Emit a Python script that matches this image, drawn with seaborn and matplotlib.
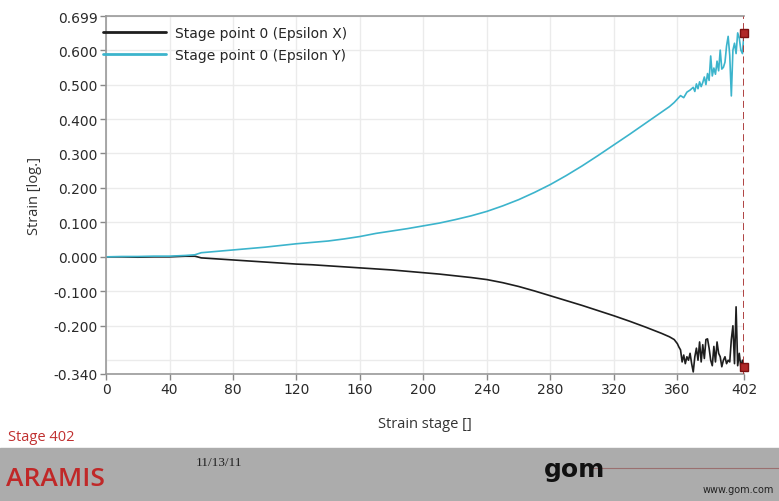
"""
ARAMIS strain chart: Epsilon X / Epsilon Y of stage point 0 over strain stages.
"""
import numpy as np
import pandas as pd
import matplotlib
matplotlib.use("Agg")
import matplotlib.pyplot as plt
import seaborn as sns
from matplotlib.patches import Rectangle
from matplotlib.lines import Line2D

# Data
stage_y = [0, 10, 20, 30, 40, 50, 56, 60, 70, 80, 90, 100, 110, 120, 130, 140, 150,
           160, 170, 180, 190, 200, 210, 220, 230, 240, 250, 260, 270, 280, 290, 300,
           310, 320, 330, 340, 350, 355, 358, 360, 362, 364, 366, 368, 370, 371, 372,
           373, 374, 375, 376, 377, 378, 379, 380, 381, 382, 383, 384, 385, 386, 387,
           388, 389, 390, 391, 392, 393, 394, 395, 396, 397, 398, 399, 400, 401, 402]
eps_y = [0.000, 0.001, 0.001, 0.002, 0.002, 0.004, 0.006, 0.012, 0.016, 0.020, 0.024,
         0.028, 0.033, 0.038, 0.042, 0.046, 0.052, 0.059, 0.068, 0.075, 0.082, 0.090,
         0.098, 0.108, 0.119, 0.132, 0.148, 0.166, 0.187, 0.210, 0.236, 0.264, 0.294,
         0.325, 0.356, 0.388, 0.420, 0.436, 0.448, 0.458, 0.468, 0.462, 0.478, 0.484,
         0.492, 0.480, 0.502, 0.488, 0.508, 0.494, 0.506, 0.522, 0.500, 0.532, 0.512,
         0.583, 0.525, 0.548, 0.530, 0.568, 0.540, 0.600, 0.545, 0.550, 0.565, 0.612,
         0.640, 0.585, 0.467, 0.600, 0.620, 0.590, 0.650, 0.635, 0.600, 0.590, 0.650]

stage_x = [0, 10, 20, 30, 40, 50, 56, 60, 70, 80, 90, 100, 110, 120, 130, 140, 150,
           160, 170, 180, 190, 200, 210, 220, 230, 240, 250, 260, 270, 280, 290, 300,
           310, 320, 330, 340, 350, 355, 358, 360, 361, 362, 363, 364, 365, 366, 367,
           368, 369, 370, 371, 372, 373, 374, 375, 376, 377, 378, 379, 380, 381, 382,
           383, 384, 385, 386, 387, 388, 389, 390, 391, 392, 393, 394, 395, 396, 397,
           398, 399, 400, 401, 402]
eps_x = [0.000, 0.000, -0.001, 0.000, 0.000, 0.002, 0.002, -0.003, -0.006, -0.009,
         -0.012, -0.015, -0.018, -0.021, -0.023, -0.026, -0.029, -0.032, -0.035,
         -0.038, -0.042, -0.046, -0.050, -0.055, -0.060, -0.066, -0.075, -0.086,
         -0.099, -0.113, -0.127, -0.141, -0.156, -0.171, -0.187, -0.204, -0.222,
         -0.232, -0.240, -0.252, -0.262, -0.270, -0.305, -0.285, -0.310, -0.290,
         -0.300, -0.280, -0.310, -0.334, -0.290, -0.265, -0.300, -0.247, -0.305,
         -0.255, -0.295, -0.240, -0.238, -0.265, -0.300, -0.316, -0.260, -0.305,
         -0.247, -0.280, -0.290, -0.319, -0.300, -0.290, -0.310, -0.300, -0.305,
         -0.240, -0.200, -0.310, -0.145, -0.316, -0.280, -0.320, -0.300, -0.320]

x_ticks = [0, 40, 80, 120, 160, 200, 240, 280, 320, 360, 402]
y_ticks = [-0.340, -0.200, -0.100, 0.000, 0.100, 0.200, 0.300, 0.400, 0.500, 0.600, 0.699]

label_x = "Stage point 0 (Epsilon X)"
label_y = "Stage point 0 (Epsilon Y)"

df_x = pd.DataFrame({"stage": stage_x, "strain": eps_x})
df_y = pd.DataFrame({"stage": stage_y, "strain": eps_y})

sns.set_theme(style="white")
plt.rcParams["font.family"] = ["DejaVu Sans"]

fig = plt.figure(figsize=(7.79, 5.02), dpi=100)
ax = fig.add_axes([0.1361, 0.2530, 0.8190, 0.7131])

black = "#1e1e1e"
cyan = "#3cb4cc"
red = "#b02828"

sns.lineplot(data=df_x, x="stage", y="strain", ax=ax, color=black, lw=1.2,
             estimator=None, sort=False)
sns.lineplot(data=df_y, x="stage", y="strain", ax=ax, color=cyan, lw=1.2,
             estimator=None, sort=False)

# current-stage cursor
ax.axvline(stage_x[-1], color="#a83030", lw=2.0, ls=(0, (2.5, 1.5)), zorder=3)
ax.plot([stage_y[-1]], [eps_y[-1]], marker="s", ms=6, color=red, mec="#7a1010",
        ls="none", zorder=4, clip_on=False)
ax.plot([stage_x[-1]], [eps_x[-1]], marker="s", ms=6, color=red, mec="#7a1010",
        ls="none", zorder=4, clip_on=False)

ax.set_xlim(0, 402)
ax.set_ylim(-0.340, 0.699)
ax.set_xticks(x_ticks)
ax.set_xticklabels([str(t) for t in x_ticks])
ax.set_yticks(y_ticks)
ax.set_yticklabels([f"{t:.3f}" for t in y_ticks])
ax.set_yticks([-0.300], minor=True)
ax.tick_params(axis="y", which="minor", length=0)
ax.tick_params(axis="both", which="major", direction="out", length=4, width=1,
               color="#888888", labelsize=10, labelcolor="#2a2a2a", pad=2,
               left=True, bottom=True)
ax.grid(True, which="both", color="#ebebeb", lw=1)
ax.set_axisbelow(True)

for side in ["left", "bottom", "top"]:
    ax.spines[side].set_color("#999999")
    ax.spines[side].set_linewidth(1.2)
ax.spines["right"].set_visible(False)

ax.set_xlabel("Strain stage []", fontsize=10.5, color="#333333", labelpad=14,
              family="Open Sans")
ax.set_ylabel("Strain [log.]", fontsize=10.5, color="#333333", labelpad=8,
              family="Open Sans")

handles = [Line2D([], [], color=black, lw=2), Line2D([], [], color=cyan, lw=2)]
ax.legend(handles, [label_x, label_y], loc="upper left", frameon=False,
          fontsize=10, handlelength=4.6, borderaxespad=0.0, borderpad=0.3,
          labelspacing=0.6, handletextpad=0.6, bbox_to_anchor=(-0.012, 0.985))

# footer
fig.text(0.010, 0.128, "Stage 402", color="#c03030", fontsize=10.5,
         family="Open Sans", va="center")
fig.patches.append(Rectangle((0, 0), 1, 0.1056, transform=fig.transFigure,
                             color="#acacac", zorder=0))
fig.text(0.008, 0.044, "ARAMIS", color="#c02828", fontsize=19, weight="semibold",
         family="Open Sans", va="center")
fig.text(0.251, 0.078, "11/13/11", color="#222222", fontsize=9.5,
         family="Liberation Serif", va="center")
fig.text(0.698, 0.064, "gom", color="#111111", fontsize=18, weight="bold",
         family="DejaVu Sans", va="center")
fig.lines.append(Line2D([0.760, 1.0], [0.066, 0.066], transform=fig.transFigure,
                        color="#9a7070", lw=0.8))
fig.text(0.993, 0.024, "www.gom.com", color="#222222", fontsize=7,
         family="DejaVu Sans", va="center", ha="right")

fig.savefig("out.png", dpi=100)
plt.close(fig)
